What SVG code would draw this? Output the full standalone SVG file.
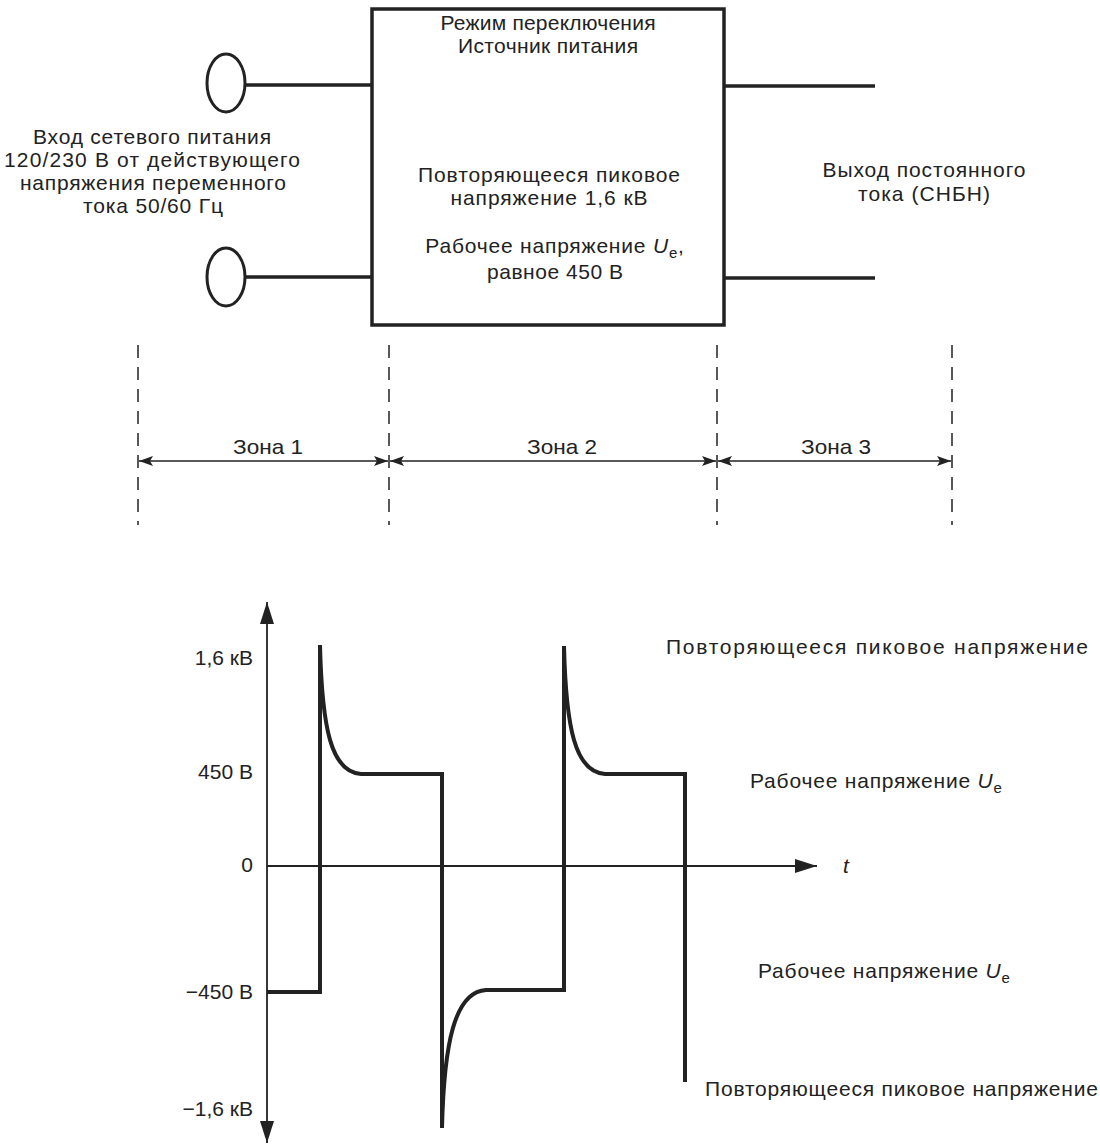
<svg xmlns="http://www.w3.org/2000/svg" width="1100" height="1145" viewBox="0 0 1100 1145">
<defs>
<style>
text{font-family:"Liberation Sans",Arial,sans-serif;font-size:21px;fill:#222}
.thick{fill:none;stroke:#222;stroke-width:3.5}
.wave{fill:none;stroke:#222;stroke-width:4;stroke-linejoin:miter}
.dash{fill:none;stroke:#222;stroke-width:1.5;stroke-dasharray:13 9}
.dim{fill:none;stroke:#222;stroke-width:1.6}
.axis{fill:none;stroke:#222;stroke-width:1.8}
.c{text-anchor:middle}
.e{text-anchor:end}
.it{font-style:italic}
.sub{font-size:15px}
</style>
<marker id="dimA" viewBox="0 0 14 10" refX="14" refY="5" markerWidth="14" markerHeight="10" markerUnits="userSpaceOnUse" orient="auto-start-reverse">
<path d="M0,0 L14,5 L0,10 L3,5 Z" fill="#222"/>
</marker>
<marker id="axA" viewBox="0 0 22 14" refX="22" refY="7" markerWidth="22" markerHeight="14" markerUnits="userSpaceOnUse" orient="auto-start-reverse">
<path d="M0,0 L22,7 L0,14 Z" fill="#222"/>
</marker>
</defs>
<rect width="1100" height="1145" fill="#fff"/>

<g id="smps">
<rect class="thick" x="372" y="9" width="352" height="316"/>
<text class="c" x="548" y="30" textLength="215" lengthAdjust="spacing">Режим переключения</text>
<text class="c" x="548" y="53" textLength="180" lengthAdjust="spacing">Источник питания</text>
<text class="c" x="549" y="182" textLength="262" lengthAdjust="spacing">Повторяющееся пиковое</text>
<text class="c" x="549" y="205" textLength="197" lengthAdjust="spacing">напряжение 1,6 кВ</text>
<text class="c" x="555" y="253" letter-spacing="0.8">Рабочее напряжение <tspan class="it">U</tspan><tspan class="sub" dy="5">e</tspan><tspan dy="-5">,</tspan></text>
<text class="c" x="555" y="279" textLength="136" lengthAdjust="spacing">равное 450 В</text>
</g>

<g id="input">
<ellipse class="thick" cx="226" cy="83" rx="19" ry="29" style="stroke-width:3"/>
<ellipse class="thick" cx="226" cy="277" rx="19" ry="29" style="stroke-width:3"/>
<text class="c" x="152" y="144" textLength="238" lengthAdjust="spacing">Вход сетевого питания</text>
<text class="c" x="152" y="167" textLength="296" lengthAdjust="spacing">120/230 В от действующего</text>
<text class="c" x="153" y="190" textLength="266" lengthAdjust="spacing">напряжения переменного</text>
<text class="c" x="153" y="213" textLength="140" lengthAdjust="spacing">тока 50/60 Гц</text>
</g>

<g id="output">
<text class="c" x="924" y="177" textLength="203" lengthAdjust="spacing">Выход постоянного</text>
<text class="c" x="924" y="201" textLength="132" lengthAdjust="spacing">тока (СНБН)</text>
</g>

<g id="connectors">
<line class="thick" x1="245" y1="85" x2="372" y2="85"/>
<line class="thick" x1="245" y1="277" x2="372" y2="277"/>
<line class="thick" x1="724" y1="86" x2="875" y2="86"/>
<line class="thick" x1="724" y1="278" x2="875" y2="278"/>
</g>

<g id="zones">
<line class="dash" x1="138" y1="345" x2="138" y2="525"/>
<line class="dash" x1="389" y1="345" x2="389" y2="525"/>
<line class="dash" x1="717" y1="345" x2="717" y2="525"/>
<line class="dash" x1="952" y1="345" x2="952" y2="525"/>
<line class="dim" x1="139" y1="461" x2="388" y2="461" marker-start="url(#dimA)" marker-end="url(#dimA)"/>
<line class="dim" x1="390" y1="461" x2="716" y2="461" marker-start="url(#dimA)" marker-end="url(#dimA)"/>
<line class="dim" x1="718" y1="461" x2="951" y2="461" marker-start="url(#dimA)" marker-end="url(#dimA)"/>
<text class="c" x="268" y="454" textLength="70" lengthAdjust="spacingAndGlyphs">Зона 1</text>
<text class="c" x="562" y="454" textLength="70" lengthAdjust="spacingAndGlyphs">Зона 2</text>
<text class="c" x="836" y="454" textLength="70" lengthAdjust="spacingAndGlyphs">Зона 3</text>
</g>

<g id="chart">
<line class="axis" x1="267" y1="602" x2="267" y2="1143" marker-start="url(#axA)" marker-end="url(#axA)"/>
<line class="axis" x1="267" y1="866" x2="817" y2="866" marker-end="url(#axA)"/>
<path class="wave" d="M267,992 H320 V645 M320,645 C322,728 331,772 361,774 H442 V1128 M442,1128 C444,1045 454,992 486,990 H564 V646 M564,646 C566,728 575,772 605,774 H685 V1082"/>
<text class="e" x="253" y="665">1,6 кВ</text>
<text class="e" x="253" y="779">450 В</text>
<text class="e" x="253" y="872">0</text>
<text class="e" x="253" y="999">−450 В</text>
<text class="e" x="253" y="1116">−1,6 кВ</text>
<text class="it" x="843" y="873">t</text>
<text x="666" y="654" textLength="422" lengthAdjust="spacing">Повторяющееся пиковое напряжение</text>
<text x="750" y="788" letter-spacing="0.8">Рабочее напряжение <tspan class="it">U</tspan><tspan class="sub" dy="5">e</tspan></text>
<text x="758" y="978" letter-spacing="0.8">Рабочее напряжение <tspan class="it">U</tspan><tspan class="sub" dy="5">e</tspan></text>
<text x="705" y="1096" textLength="393" lengthAdjust="spacing">Повторяющееся пиковое напряжение</text>
</g>
</svg>
